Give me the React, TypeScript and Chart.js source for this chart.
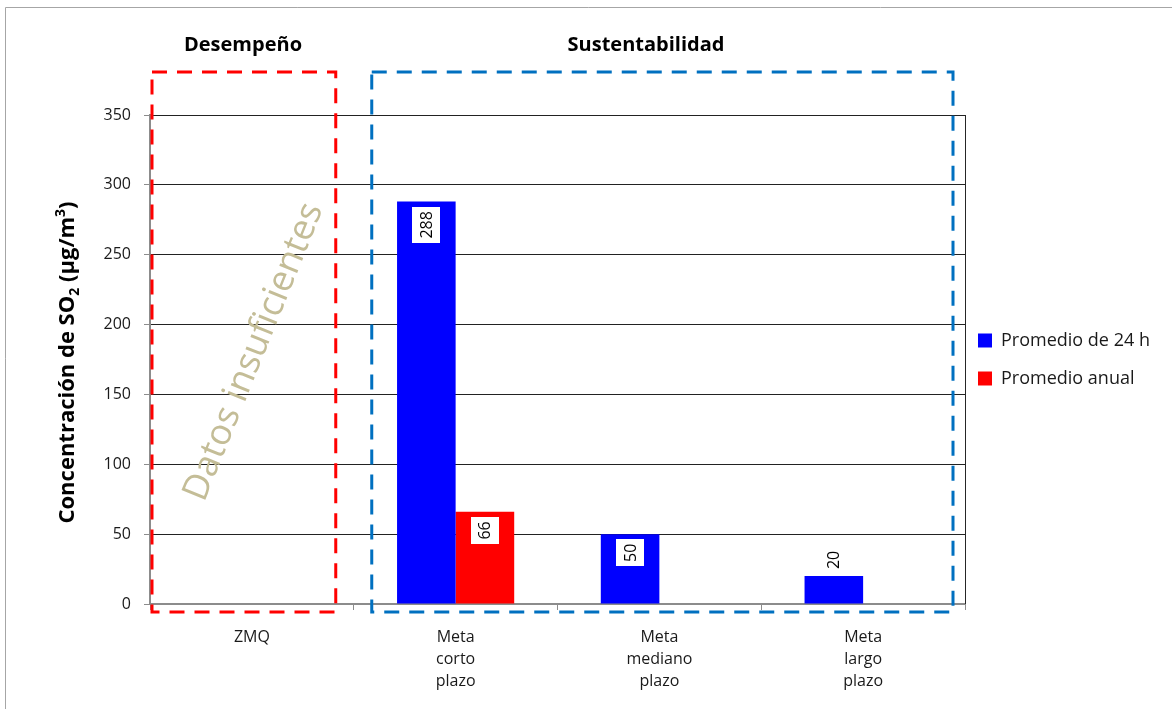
import React, { useEffect, useRef } from 'react';
import { Chart, registerables } from 'chart.js';

Chart.register(...registerables);

// Categories (multi-line axis labels)
const categories: string[][] = [
  ['ZMQ'],
  ['Meta', 'corto', 'plazo'],
  ['Meta', 'mediano', 'plazo'],
  ['Meta', 'largo', 'plazo'],
];

const seriesNames = ['Promedio de 24 h', 'Promedio anual'];
const promedio24h: (number | null)[] = [null, 288, 50, 20];
const promedioAnual: (number | null)[] = [null, 66, null, null];

const yTickValues = [0, 50, 100, 150, 200, 250, 300, 350];

const groupTitles = ['Desempeño', 'Sustentabilidad'];
const noDataNote = 'Datos insuficientes';

const FONT = "'Open Sans', 'Liberation Sans', sans-serif";
const TEXT = '#1a1a1a';
const AXIS_GRAY = '#8c8c8c';

const CANVAS_W = 1172;
const CANVAS_H = 709;
const PLOT_RIGHT = 965;
const LEGEND_FONT = 18;
const LEGEND_BOX = 14;
const LEGEND_PAD = 20;

// Width the right-hand legend will claim, so the plot ends where intended
function legendWidth(): number {
  const c = document.createElement('canvas').getContext('2d');
  if (!c) return 200;
  c.font = `${LEGEND_FONT}px ${FONT}`;
  const tw = Math.max(...seriesNames.map((s) => c.measureText(s).width));
  return LEGEND_PAD * 1.5 + LEGEND_BOX + LEGEND_FONT / 2 + tw;
}

const decorations = {
  id: 'decorations',
  beforeDraw(chart: any) {
    const { ctx, width, height } = chart;
    ctx.save();
    ctx.fillStyle = '#ffffff';
    ctx.fillRect(0, 0, width, height);
    // outer frame
    ctx.strokeStyle = '#a6a6a6';
    ctx.lineWidth = 1;
    ctx.beginPath();
    ctx.moveTo(5.5, height);
    ctx.lineTo(5.5, 7.5);
    ctx.lineTo(width, 7.5);
    ctx.stroke();
    ctx.restore();
  },
  afterLayout(chart: any) {
    // pull the legend slightly towards the plot
    const lg = chart.legend;
    if (lg) {
      lg.left -= 7;
      lg.right -= 7;
    }
  },
  afterDatasetsDraw(chart: any) {
    const { ctx } = chart;
    ctx.save();
    ctx.font = `16px ${FONT}`;
    chart.data.datasets.forEach((ds: any, di: number) => {
      const meta = chart.getDatasetMeta(di);
      meta.data.forEach((bar: any, i: number) => {
        const v = ds.data[i];
        if (v === null || v === undefined) return;
        const { x, y, base } = bar.getProps(['x', 'y', 'base'], true);
        const label = String(v);
        const tw = ctx.measureText(label).width;
        const len = tw + 9;
        const thick = 28;
        const barH = base - y;
        ctx.save();
        if (barH > len + 12) {
          const top = y + 5;
          ctx.fillStyle = '#ffffff';
          ctx.fillRect(Math.round(x - thick / 2), Math.round(top), thick, Math.round(len));
          ctx.translate(x, top + len / 2);
        } else {
          ctx.translate(x, y - 7 - tw / 2);
        }
        ctx.rotate(-Math.PI / 2);
        ctx.fillStyle = '#000000';
        ctx.textAlign = 'center';
        ctx.textBaseline = 'middle';
        ctx.fillText(label, 0, 1);
        ctx.restore();
      });
    });
    ctx.restore();
  },
  afterDraw(chart: any) {
    const { ctx, chartArea } = chart;
    const { left, right, top, bottom } = chartArea;
    const catW = (right - left) / categories.length;
    ctx.save();

    // right edge of the plot
    ctx.strokeStyle = '#262626';
    ctx.lineWidth = 1;
    ctx.beginPath();
    ctx.moveTo(Math.round(right) + 0.5, top);
    ctx.lineTo(Math.round(right) + 0.5, bottom);
    ctx.stroke();

    // watermark note over the empty category
    ctx.save();
    ctx.translate(left + 104, top + 237);
    ctx.rotate((-68 * Math.PI) / 180);
    ctx.fillStyle = '#c4bd97';
    ctx.font = `36px ${FONT}`;
    ctx.textAlign = 'center';
    ctx.textBaseline = 'middle';
    ctx.fillText(noDataNote, 0, 0);
    ctx.restore();

    // dashed group frames
    ctx.lineWidth = 3;
    ctx.setLineDash([15, 10]);
    const fTop = top - 43;
    const fBottom = bottom + 8;
    ctx.strokeStyle = '#ff0000';
    ctx.strokeRect(left + 2, fTop, catW - 20, fBottom - fTop);
    ctx.strokeStyle = '#0070c0';
    ctx.strokeRect(left + catW + 18, fTop, right - 12 - (left + catW + 18), fBottom - fTop);
    ctx.setLineDash([]);

    // group headers
    ctx.fillStyle = '#000000';
    ctx.font = `bold 20px ${FONT}`;
    ctx.textAlign = 'center';
    ctx.textBaseline = 'middle';
    ctx.fillText(groupTitles[0], left + 93, top - 70);
    ctx.fillText(groupTitles[1], left + 496, top - 70);

    // y-axis title with sub/superscripts
    const parts = [
      { t: 'Concentración de SO', size: 22, dy: 0 },
      { t: '2', size: 14, dy: 5 },
      { t: ' (µg/m', size: 22, dy: 0 },
      { t: '3', size: 14, dy: -9 },
      { t: ')', size: 22, dy: 0 },
    ];
    let total = 0;
    parts.forEach((p) => {
      ctx.font = `bold ${p.size}px ${FONT}`;
      total += ctx.measureText(p.t).width;
    });
    ctx.translate(58, (top + bottom) / 2 + 3);
    ctx.rotate(-Math.PI / 2);
    ctx.textAlign = 'left';
    ctx.textBaseline = 'alphabetic';
    let cx = -total / 2;
    parts.forEach((p) => {
      ctx.font = `bold ${p.size}px ${FONT}`;
      ctx.fillText(p.t, cx, 16 + p.dy);
      cx += ctx.measureText(p.t).width;
    });

    ctx.restore();
  },
};

export default function App() {
  const canvasRef = useRef<HTMLCanvasElement>(null);

  useEffect(() => {
    document.body.style.margin = '0';
    const canvas = canvasRef.current;
    if (!canvas) return;

    const padRight = Math.max(0, CANVAS_W - PLOT_RIGHT - legendWidth());

    const chart = new Chart(canvas, {
      type: 'bar',
      data: {
        labels: categories,
        datasets: [
          {
            label: seriesNames[0],
            data: promedio24h,
            backgroundColor: '#0000ff',
            borderWidth: 0,
            categoryPercentage: 0.575,
            barPercentage: 1,
          },
          {
            label: seriesNames[1],
            data: promedioAnual,
            backgroundColor: '#ff0000',
            borderWidth: 0,
            categoryPercentage: 0.575,
            barPercentage: 1,
          },
        ],
      },
      options: {
        responsive: false,
        animation: false,
        layout: { padding: { left: 5, top: 115, right: padRight, bottom: 0 } },
        font: { family: FONT },
        plugins: {
          tooltip: { enabled: false },
          legend: {
            position: 'right',
            align: 'center',
            fullSize: false,
            labels: {
              boxWidth: LEGEND_BOX,
              boxHeight: LEGEND_BOX,
              padding: LEGEND_PAD,
              color: TEXT,
              font: { size: LEGEND_FONT, family: FONT },
            },
          },
        },
        scales: {
          x: {
            grid: {
              offset: true,
              drawOnChartArea: false,
              drawTicks: true,
              tickLength: 6,
              tickColor: AXIS_GRAY,
            },
            border: { display: true, color: AXIS_GRAY, width: 2 },
            ticks: {
              color: TEXT,
              padding: 16,
              maxRotation: 0,
              autoSkip: false,
              font: { size: 16, family: FONT, lineHeight: 1.375 },
            },
            afterFit: (scale: any) => {
              scale.height = CANVAS_H - 604;
            },
          },
          y: {
            min: 0,
            max: 350,
            afterBuildTicks: (scale: any) => {
              scale.ticks = yTickValues.map((v) => ({ value: v }));
            },
            grid: {
              color: (c: any) => (c.tick && c.tick.value === 0 ? 'rgba(0,0,0,0)' : '#222222'),
              lineWidth: 1,
              drawTicks: true,
              tickLength: 6,
              tickColor: AXIS_GRAY,
            },
            border: { display: true, color: AXIS_GRAY, width: 2 },
            ticks: {
              color: TEXT,
              padding: 13,
              font: { size: 16, family: FONT },
            },
            afterFit: (scale: any) => {
              scale.width = 145;
            },
          },
        },
      },
      plugins: [decorations],
    });

    return () => chart.destroy();
  }, []);

  return (
    <div style={{ width: CANVAS_W, height: CANVAS_H }}>
      <canvas ref={canvasRef} width={CANVAS_W} height={CANVAS_H} style={{ display: 'block' }} />
    </div>
  );
}
